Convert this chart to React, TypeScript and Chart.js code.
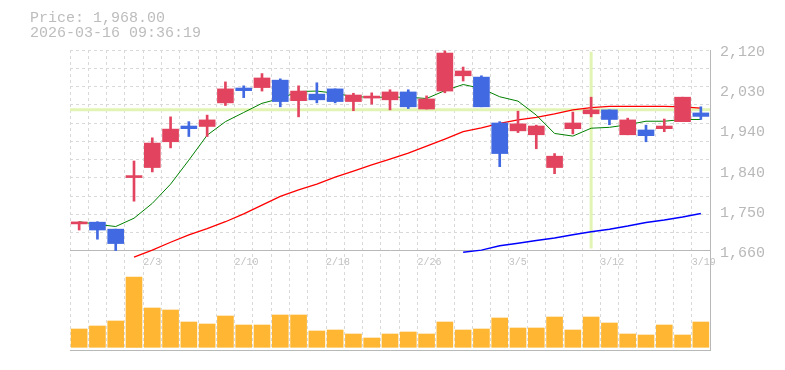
import { useEffect, useRef } from 'react';
import { Chart, registerables } from 'chart.js';

Chart.register(...registerables);

// ---- data ----
const days = [
  '1/28', '1/29', '1/30', '2/2', '2/3', '2/4', '2/5', '2/6', '2/9', '2/10',
  '2/12', '2/13', '2/16', '2/17', '2/18', '2/19', '2/20', '2/24', '2/25', '2/26',
  '2/27', '3/2', '3/3', '3/4', '3/5', '3/6', '3/9', '3/10', '3/11', '3/12',
  '3/13', '3/16', '3/17', '3/18', '3/19',
];
const opens = [
  1722, 1726, 1710, 1828, 1851, 1910, 1946, 1945, 1999, 2033,
  2034, 2051, 2004, 2019, 2031, 2002, 2010, 2006, 2024, 1985,
  2026, 2061, 2058, 1953, 1935, 1926, 1851, 1940, 1974, 1983,
  1926, 1937, 1940, 1956, 1976,
];
const highs = [
  1727, 1727, 1710, 1866, 1919, 1967, 1956, 1971, 2047, 2038,
  2066, 2054, 2038, 2045, 2031, 2021, 2022, 2029, 2029, 2015,
  2118, 2081, 2061, 1956, 1980, 1948, 1883, 1978, 2012, 1983,
  1964, 1948, 1962, 2012, 1990,
];
const lows = [
  1708, 1687, 1661, 1774, 1841, 1896, 1922, 1922, 1993, 2011,
  2026, 1990, 1967, 1999, 1999, 1981, 1996, 1983, 1986, 1985,
  2022, 2049, 1990, 1853, 1931, 1894, 1837, 1928, 1967, 1949,
  1926, 1910, 1933, 1956, 1961,
];
const closes = [
  1726, 1708, 1677, 1832, 1907, 1939, 1940, 1960, 2031, 2027,
  2056, 2002, 2026, 2006, 2002, 2017, 2012, 2024, 1990, 2008,
  2113, 2072, 1990, 1883, 1951, 1946, 1877, 1953, 1983, 1961,
  1960, 1924, 1946, 2012, 1968,
];
const volumes = [
  183, 213, 263, 703, 393, 373, 253, 233, 313, 223,
  223, 323, 323, 163, 173, 133, 93, 133, 153, 133,
  253, 173, 183, 293, 193, 193, 303, 173, 303, 243,
  133, 123, 223, 123, 253,
];
const ma5 = [
  1727, 1721, 1716, 1735, 1769, 1813, 1868, 1925, 1956, 1977,
  1998, 2009, 2025, 2026, 2021, 2013, 2012, 2012, 2012, 2009,
  2027, 2041, 2032, 2013, 2003, 1971, 1929, 1923, 1941, 1943,
  1949, 1957, 1957, 1961, 1961,
];
const ma25 = [
  null, null, null, 1646, 1662, 1680, 1697, 1711, 1727, 1745,
  1765, 1785, 1800, 1813, 1829, 1843, 1857, 1870, 1884, 1900,
  1916, 1933, 1942, 1952, 1960, 1966, 1974, 1983, 1988, 1991,
  1991, 1991, 1991, 1990, 1987,
];
const ma75 = [
  null, null, null, null, null, null, null, null, null, null,
  null, null, null, null, null, null, null, null, null, null,
  null, 1657, 1662, 1672, 1678, 1684, 1690, 1697, 1704, 1710,
  1717, 1725, 1731, 1738, 1746,
];
const priceTicks = [1660, 1752, 1844, 1936, 2028, 2120];
const priceTickLabels = ['1,660', '1,750', '1,840', '1,940', '2,030', '2,120'];
const dateTickIdx = [4, 9, 14, 19, 24, 29, 34];
const dateTickLabels = ['2/3', '2/10', '2/18', '2/26', '3/5', '3/12', '3/19'];
const cursorIndex = 28;
const cursorPrice = 1983;
const cursorTop = 2116;
const cursorBottom = 1666;
const headerPrice = 'Price: 1,968.00';
const headerTime = '2026-03-16 09:36:19';

// ---- layout constants ----
const W = 785;
const H = 370;
const PLOT_TOP = 50;
const PRICE_BOTTOM = 251;
const PLOT_BOTTOM = 350;
const priceMax = priceTicks[priceTicks.length - 1];
const priceLow = priceTicks[0];
const priceAxisMin =
  priceMax - ((priceMax - priceLow) * (PLOT_BOTTOM - PLOT_TOP)) / (PRICE_BOTTOM - PLOT_TOP);
const gridRows = 11;
const gridAxisMax = ((PLOT_BOTTOM - PLOT_TOP) * gridRows) / (PRICE_BOTTOM - PLOT_TOP);
const volAxisMin = -27;
const volAxisMax = 2973;

const FONT = "'Liberation Mono', 'DejaVu Sans Mono', monospace";

export default function App() {
  const ref = useRef<HTMLCanvasElement>(null);

  useEffect(() => {
    const canvas = ref.current;
    if (!canvas) return;
    const up = '#e2445f';
    const down = '#4169e1';
    const candleColors = opens.map((o, i) => (closes[i] >= o ? up : down));
    const slots = days.length;
    const gridColor = '#d9d9d9';
    const axisColor = '#b8b8b8';

    const chart = new Chart(canvas, {
      type: 'bar',
      data: {
        labels: days,
        datasets: [
          {
            type: 'bar',
            label: 'body',
            data: opens.map((o, i) => [o, closes[i]]),
            backgroundColor: candleColors,
            barThickness: 16,
            minBarLength: 2,
            grouped: false,
            xAxisID: 'x',
            yAxisID: 'y',
            order: 0,
          },
          {
            type: 'bar',
            label: 'wick',
            data: lows.map((l, i) => [l, highs[i]]),
            backgroundColor: candleColors,
            barThickness: 2,
            grouped: false,
            xAxisID: 'x',
            yAxisID: 'y',
            order: 1,
          },
          {
            type: 'bar',
            label: 'volume',
            data: volumes,
            backgroundColor: '#ffb733',
            barThickness: 16,
            grouped: false,
            xAxisID: 'x',
            yAxisID: 'yv',
            order: 1,
          },
          {
            type: 'line',
            label: 'MA5',
            data: ma5,
            borderColor: '#008000',
            borderWidth: 1,
            pointRadius: 0,
            tension: 0,
            xAxisID: 'x',
            yAxisID: 'y',
            order: 2,
          },
          {
            type: 'line',
            label: 'MA25',
            data: ma25,
            borderColor: '#ff0000',
            borderWidth: 1.3,
            pointRadius: 0,
            tension: 0,
            xAxisID: 'x',
            yAxisID: 'y',
            order: 2,
          },
          {
            type: 'line',
            label: 'MA75',
            data: ma75,
            borderColor: '#0000ff',
            borderWidth: 1.5,
            pointRadius: 0,
            tension: 0,
            xAxisID: 'x',
            yAxisID: 'y',
            order: 2,
          },
          {
            type: 'line',
            label: 'cursorH',
            data: [
              { x: 0, y: cursorPrice },
              { x: slots, y: cursorPrice },
            ],
            borderColor: '#e2f4b4',
            borderWidth: 3,
            pointRadius: 0,
            xAxisID: 'xg',
            yAxisID: 'y',
            order: 3,
          },
          {
            type: 'line',
            label: 'cursorV',
            data: [
              { x: cursorIndex + 0.5, y: cursorTop },
              { x: cursorIndex + 0.5, y: cursorBottom },
            ],
            borderColor: '#e2f4b4',
            borderWidth: 3,
            pointRadius: 0,
            xAxisID: 'xg',
            yAxisID: 'y',
            order: 3,
          },
        ] as any,
      },
      options: {
        responsive: false,
        animation: false,
        events: [],
        layout: { padding: { left: 70, top: PLOT_TOP, right: 0, bottom: 0 } },
        plugins: {
          legend: { display: false },
          tooltip: { enabled: false },
          title: { display: false },
        },
        scales: {
          x: {
            type: 'category',
            position: 'bottom',
            offset: true,
            grid: { display: false, drawTicks: false, offset: true },
            ticks: { display: false },
            border: { display: true, color: axisColor, width: 1 },
            afterFit: (s: any) => {
              s.height = H - PLOT_BOTTOM;
            },
          },
          xg: {
            type: 'linear',
            position: { y: priceLow } as any,
            offset: false,
            min: 0,
            max: slots,
            afterBuildTicks: (s: any) => {
              s.ticks = Array.from({ length: slots + 1 }, (_, k) => ({ value: k }));
            },
            grid: { display: true, color: gridColor, lineWidth: 1, drawTicks: false, offset: false },
            border: { display: true, color: axisColor, width: 1, dash: [3, 3] },
            ticks: {
              autoSkip: false,
              maxRotation: 0,
              minRotation: 0,
              align: 'start',
              padding: 5,
              color: '#c2c2c2',
              font: { family: FONT, size: 10 },
              callback: (v: any) => {
                const j = dateTickIdx.indexOf(Number(v));
                return j >= 0 ? dateTickLabels[j] : '';
              },
            },
          },
          y: {
            type: 'linear',
            position: 'right',
            min: priceAxisMin,
            max: priceMax,
            afterBuildTicks: (s: any) => {
              s.ticks = priceTicks.map((v) => ({ value: v }));
            },
            afterFit: (s: any) => {
              s.width = 75;
            },
            grid: { display: false, drawTicks: false },
            border: { display: true, color: axisColor, width: 1 },
            ticks: {
              padding: 10,
              labelOffset: 2,
              color: '#b8b8b8',
              font: { family: FONT, size: 15 },
              callback: (_v: any, i: number) => priceTickLabels[i],
            },
          },
          yg: {
            type: 'linear',
            position: 'left',
            reverse: true,
            min: 0,
            max: gridAxisMax,
            afterBuildTicks: (s: any) => {
              s.ticks = Array.from({ length: gridRows }, (_, k) => ({ value: k }));
            },
            afterFit: (s: any) => {
              s.width = 0;
            },
            grid: { display: true, color: gridColor, lineWidth: 1, drawTicks: false },
            border: { display: false, dash: [3, 3] },
            ticks: { display: false },
          },
          yv: {
            type: 'linear',
            display: false,
            min: volAxisMin,
            max: volAxisMax,
          },
        } as any,
      },
    });

    return () => {
      chart.destroy();
    };
  }, []);

  return (
    <div style={{ position: 'absolute', left: 0, top: 0, width: W, height: H, background: '#fff' }}>
      <canvas ref={ref} width={W} height={H} style={{ position: 'absolute', left: 0, top: 0 }} />
      <div
        style={{
          position: 'absolute',
          left: 30,
          top: 11,
          fontFamily: FONT,
          fontSize: 15,
          lineHeight: '15px',
          color: '#bdbdbd',
          whiteSpace: 'pre',
        }}
      >
        <div>{headerPrice}</div>
        <div>{headerTime}</div>
      </div>
    </div>
  );
}
